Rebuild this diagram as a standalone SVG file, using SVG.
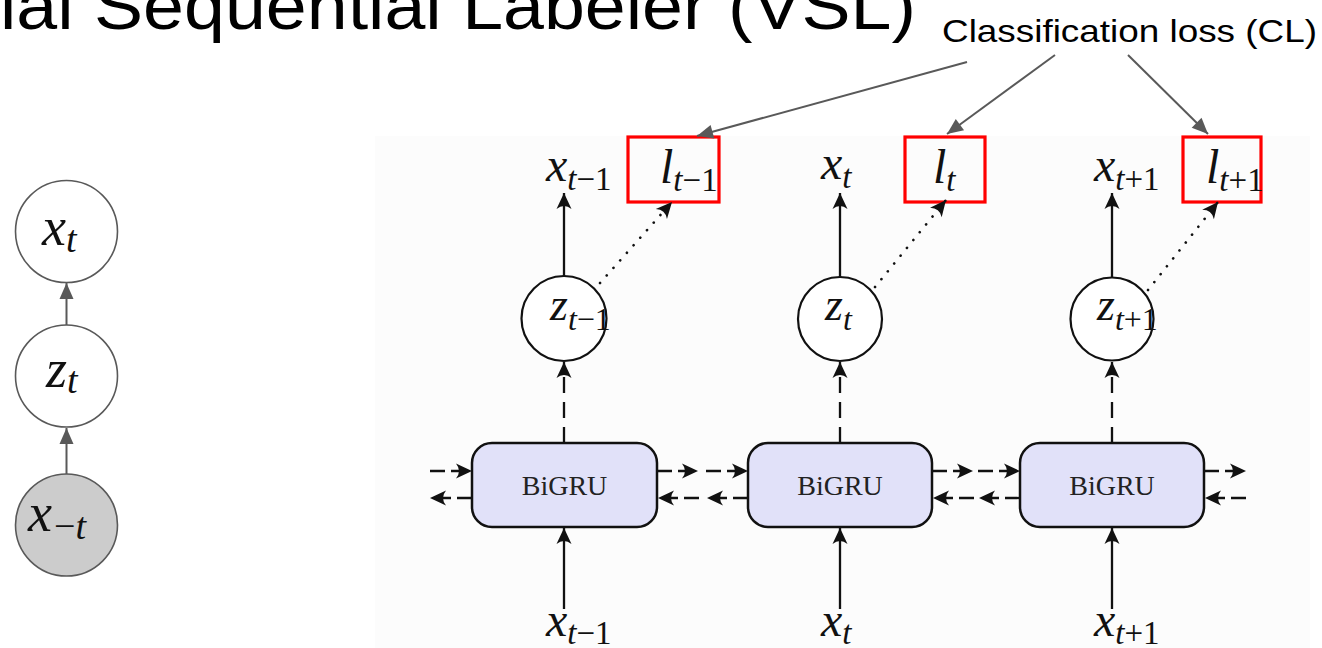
<svg xmlns="http://www.w3.org/2000/svg" width="1322" height="648" viewBox="0 0 1322 648">
<style>
.title{font-family:"Liberation Sans",Arial,sans-serif;fill:#000}
.m{font-family:"Liberation Serif","Times New Roman",serif;font-style:italic;fill:#111}
.up{font-style:normal}
.box{fill:#e1e1f9;stroke:#111;stroke-width:2.5}
.circ{fill:#fff;stroke:#111;stroke-width:2.2}
.lcirc{fill:#fff;stroke:#595959;stroke-width:1.6}
.red{fill:none;stroke:#ff0000;stroke-width:3.2}
.solid{stroke:#111;stroke-width:2.3;fill:none;marker-end:url(#ah)}
.dash{stroke:#111;stroke-width:2.3;fill:none;stroke-dasharray:15 6;marker-end:url(#ah)}
.vdash{stroke:#111;stroke-width:2.3;fill:none;stroke-dasharray:16 9;marker-end:url(#ah)}
.dot{stroke:#111;stroke-width:2.6;fill:none;stroke-dasharray:0.1 10;stroke-linecap:round;marker-end:url(#ah)}
.gray{stroke:#595959;stroke-width:2;fill:none;marker-end:url(#tri)}
.bg{font-family:"Liberation Serif","Times New Roman",serif;fill:#222}
</style>
<defs>
<marker id="ah" viewBox="-18 -9 20 18" refX="0" refY="0" markerWidth="20" markerHeight="18" orient="auto" markerUnits="userSpaceOnUse">
<path d="M0,0 L-16,-7.5 Q-10,0 -16,7.5 Z" fill="#111"/>
</marker>
<marker id="tri" viewBox="-18 -8 20 16" refX="0" refY="0" markerWidth="20" markerHeight="16" orient="auto" markerUnits="userSpaceOnUse">
<path d="M0,0 L-16,-7 L-16,7 Z" fill="#595959"/>
</marker>
</defs>
<rect x="375" y="136" width="935" height="512" fill="#fcfcfc"/>
<g id="title">
<text class="title" x="0" y="29" font-size="66" textLength="916" lengthAdjust="spacingAndGlyphs">ial Sequential Labeler (VSL)</text>
</g>
<g id="cl-label">
<text class="title" x="942" y="42" font-size="32" textLength="375" lengthAdjust="spacingAndGlyphs">Classification loss (CL)</text>
</g>
<g id="left-xt">
<circle class="lcirc" cx="66.5" cy="231.5" r="51"/>
<text class="m" x="42" y="245" font-size="54">x<tspan font-size="38" dy="7">t</tspan></text>
</g>
<g id="left-zt">
<circle class="lcirc" cx="66.5" cy="376" r="51"/>
<text class="m" x="46" y="387" font-size="54">z<tspan font-size="38" dy="6">t</tspan></text>
</g>
<g id="left-xnt">
<circle class="lcirc" cx="66.5" cy="525" r="51" style="fill:#cccccc"/>
<text class="m" x="28" y="531" font-size="54">x<tspan font-size="38" dy="8" dx="2" class="up">−</tspan><tspan font-size="38">t</tspan></text>
</g>
<g id="bigru1"><rect class="box" x="472" y="443" width="185" height="84" rx="20"/><text class="bg" x="564.5" y="495" font-size="28" text-anchor="middle">BiGRU</text></g>
<g id="bigru2"><rect class="box" x="748" y="443" width="184" height="84" rx="20"/><text class="bg" x="840" y="495" font-size="28" text-anchor="middle">BiGRU</text></g>
<g id="bigru3"><rect class="box" x="1020" y="443" width="184" height="84" rx="20"/><text class="bg" x="1112" y="495" font-size="28" text-anchor="middle">BiGRU</text></g>
<g id="z1"><circle class="circ" cx="564" cy="318.5" r="42.5"/><text class="m" x="550" y="320" font-size="46">z<tspan font-size="32" dy="10">t</tspan><tspan font-size="32" class="up">−1</tspan></text></g>
<g id="z2"><circle class="circ" cx="840" cy="319" r="42"/><text class="m" x="825" y="320" font-size="46">z<tspan font-size="32" dy="10">t</tspan></text></g>
<g id="z3"><circle class="circ" cx="1112" cy="319" r="41.5"/><text class="m" x="1097" y="320" font-size="46">z<tspan font-size="32" dy="10">t</tspan><tspan font-size="32" class="up">+1</tspan></text></g>
<g id="xo1"><text class="m" x="546" y="181" font-size="48">x<tspan font-size="33" dy="9">t</tspan><tspan font-size="33" class="up">−1</tspan></text></g>
<g id="xo2"><text class="m" x="821" y="179" font-size="48">x<tspan font-size="33" dy="9">t</tspan></text></g>
<g id="xo3"><text class="m" x="1094" y="181" font-size="48">x<tspan font-size="33" dy="9">t</tspan><tspan font-size="33" class="up">+1</tspan></text></g>
<g id="l1"><rect class="red" x="628" y="137" width="91" height="65"/><text class="m" x="660" y="183" font-size="48">l<tspan font-size="33" dy="8">t</tspan><tspan font-size="33" class="up">−1</tspan></text></g>
<g id="l2"><rect class="red" x="905" y="137" width="80" height="65"/><text class="m" x="933" y="183" font-size="48">l<tspan font-size="33" dy="8">t</tspan></text></g>
<g id="l3"><rect class="red" x="1183" y="137" width="78" height="65"/><text class="m" x="1206" y="183" font-size="48">l<tspan font-size="33" dy="8">t</tspan><tspan font-size="33" class="up">+1</tspan></text></g>
<g id="xi1"><text class="m" x="546" y="636" font-size="48">x<tspan font-size="33" dy="8">t</tspan><tspan font-size="33" class="up">−1</tspan></text></g>
<g id="xi2"><text class="m" x="821" y="636" font-size="48">x<tspan font-size="33" dy="8">t</tspan></text></g>
<g id="xi3"><text class="m" x="1094" y="636" font-size="48">x<tspan font-size="33" dy="8">t</tspan><tspan font-size="33" class="up">+1</tspan></text></g>
<g id="connectors">
<line class="gray" x1="66.5" y1="325" x2="66.5" y2="283"/>
<line class="gray" x1="66.5" y1="474" x2="66.5" y2="428"/>
<line class="gray" x1="967" y1="62" x2="697" y2="136"/>
<line class="gray" x1="1055" y1="55" x2="947" y2="134"/>
<line class="gray" x1="1128" y1="55" x2="1208" y2="134"/>
<line class="solid" x1="564" y1="609" x2="564" y2="528"/>
<line class="solid" x1="840" y1="609" x2="840" y2="528"/>
<line class="solid" x1="1112" y1="609" x2="1112" y2="528"/>
<line class="vdash" x1="564" y1="443" x2="564" y2="362"/>
<line class="vdash" x1="840" y1="443" x2="840" y2="362"/>
<line class="vdash" x1="1112" y1="443" x2="1112" y2="362"/>
<line class="solid" x1="564" y1="276" x2="564" y2="193"/>
<line class="solid" x1="840" y1="277" x2="840" y2="193"/>
<line class="solid" x1="1112" y1="277" x2="1112" y2="193"/>
<line class="dot" x1="600" y1="283" x2="672" y2="202"/>
<line class="dot" x1="875" y1="287" x2="946" y2="200"/>
<line class="dot" x1="1148" y1="290" x2="1218" y2="202"/>
<line class="dash" x1="430" y1="471" x2="472" y2="471"/>
<line class="dash" x1="472" y1="498" x2="430" y2="498"/>
<line class="dash" x1="657" y1="471" x2="698" y2="471"/>
<line class="dash" x1="699" y1="498" x2="658" y2="498"/>
<line class="dash" x1="706" y1="471" x2="748" y2="471"/>
<line class="dash" x1="748" y1="498" x2="707" y2="498"/>
<line class="dash" x1="932" y1="471" x2="973" y2="471"/>
<line class="dash" x1="974" y1="498" x2="933" y2="498"/>
<line class="dash" x1="978" y1="471" x2="1020" y2="471"/>
<line class="dash" x1="1020" y1="498" x2="979" y2="498"/>
<line class="dash" x1="1204" y1="471" x2="1246" y2="471"/>
<line class="dash" x1="1246" y1="498" x2="1205" y2="498"/>
</g>
</svg>
